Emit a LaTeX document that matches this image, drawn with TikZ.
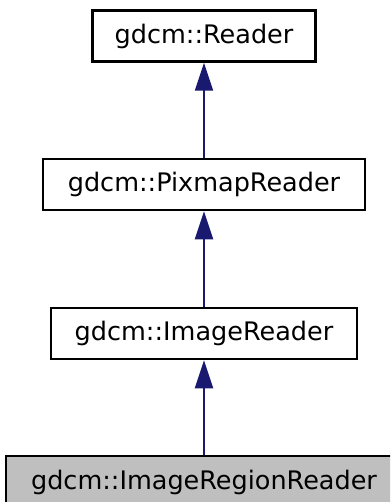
\documentclass[tikz,border=0pt]{standalone}
\usepackage{fontspec}
\setmainfont{DejaVu Sans}
\usepackage{xcolor}
\definecolor{edge}{HTML}{191970}
\definecolor{cur}{HTML}{BFBFBF}
\usetikzlibrary{arrows.meta,positioning}
\tikzset{
  cls/.style={draw=black,line width=2.5pt,inner sep=0pt,minimum height=51pt,font=\fontsize{25.5}{30}\selectfont,fill=white},
  ccls/.style={cls,fill=cur},
  inh/.style={-{Triangle[length=28pt,width=18pt]},draw=edge,fill=edge,line width=2pt},
}
\begin{document}
\begin{tikzpicture}[x=1pt,y=-1pt]
\clip (0,0) rectangle (390,502);
% class chain
\node[cls,minimum width=223pt] (reader) at (204,36) {gdcm::Reader};
\node[cls,minimum width=322pt] (pixreader) at (204,184.5) {gdcm::PixmapReader};
\node[cls,minimum width=306pt] (imgreader) at (204,333.5) {gdcm::ImageReader};
\node[ccls,minimum width=396pt,minimum height=52pt] (regreader) at (204,482) {gdcm::ImageRegionReader};
% inheritance
\draw[inh] (pixreader) -- (reader);
\draw[inh] (imgreader) -- (pixreader);
\draw[inh] (regreader) -- (imgreader);
\end{tikzpicture}
\end{document}
